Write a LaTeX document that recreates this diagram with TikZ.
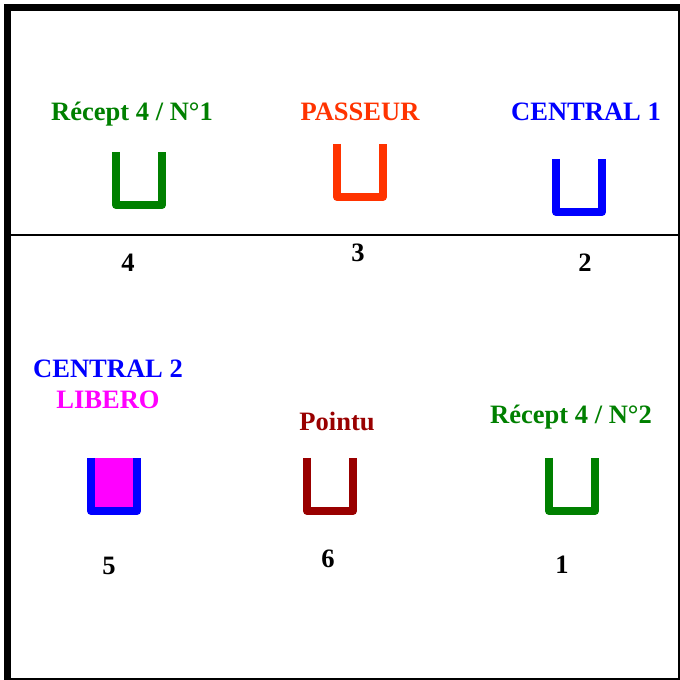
\documentclass[tikz,border=0pt]{standalone}
\usepackage{fontspec}
\setmainfont{Liberation Serif}
\definecolor{recept}{HTML}{008000}
\definecolor{passeur}{HTML}{FF3300}
\definecolor{pointu}{HTML}{990000}
\definecolor{libero}{HTML}{FF00FF}
\definecolor{central}{HTML}{0000FF}
\tikzset{
	poste/.style={font=\bfseries\fontsize{15.1}{15.1}\selectfont, anchor=base, inner sep=0pt, yshift=-0.02cm},
	numero/.style={font=\bfseries\fontsize{15.1}{15.1}\selectfont, anchor=base, inner sep=0pt, yshift=-0.02cm, text=black}
}
\def\marque[#1](#2,#3){\draw[#1, line width=0.16cm, line join=round] ({#2+0.08},#3) -- ({#2+0.08},{#3-1.06}) -- ({#2+1},{#3-1.06}) -- ({#2+1},#3);}

\begin{document}
\begin{tikzpicture}
		\useasboundingbox (0, 0) rectangle (13.6, 13.6);
		
		\fill[white] (0, 0) rectangle (13.6, 13.6);
		
		%%%%% cadre %%%%%
		\fill[black] (0.08, 0) rectangle (0.22, 13.52);
		\fill[black] (0.08, 13.38) rectangle (13.6, 13.52);
		\draw[line width=0.04cm] (0.2, 0.02) -- (13.58, 0.02) -- (13.58, 13.4);
		\draw[line width=0.04cm] (0.2, 8.9) -- (13.58, 8.9);
		
		%%%%% avant %%%%%
		\marque[recept](2.24, 10.56)
		\marque[passeur](6.66, 10.72)
		\marque[central](11.04, 10.42)
		
		%%%%% arriere %%%%%
		\fill[libero] (1.82, 3.38) rectangle (2.74, 4.44);
		\marque[central](1.74, 4.44)
		\marque[pointu](6.06, 4.44)
		\marque[recept](10.9, 4.44)
		
		\node[poste, text=recept] (recept1) at (2.64, 11.2) {Récept 4 / N°1};
		\node[poste, text=passeur] (passeur) at (7.2, 11.2) {PASSEUR};
		\node[poste, text=central] (central1) at (11.72, 11.2) {CENTRAL 1};
		\node[poste, text=central] (central2) at (2.16, 6.06) {CENTRAL 2};
		\node[poste, text=libero] (libero) at (2.16, 5.44) {LIBERO};
		\node[poste, text=pointu] (pointu) at (6.74, 5) {Pointu};
		\node[poste, text=recept] (recept2) at (11.42, 5.14) {Récept 4 / N°2};
		
		\node[numero] (n4) at (2.56, 8.18) {4};
		\node[numero] (n3) at (7.16, 8.38) {3};
		\node[numero] (n2) at (11.7, 8.18) {2};
		\node[numero] (n5) at (2.18, 2.12) {5};
		\node[numero] (n6) at (6.56, 2.26) {6};
		\node[numero] (n1) at (11.24, 2.14) {1};
	\end{tikzpicture}
\end{document}
